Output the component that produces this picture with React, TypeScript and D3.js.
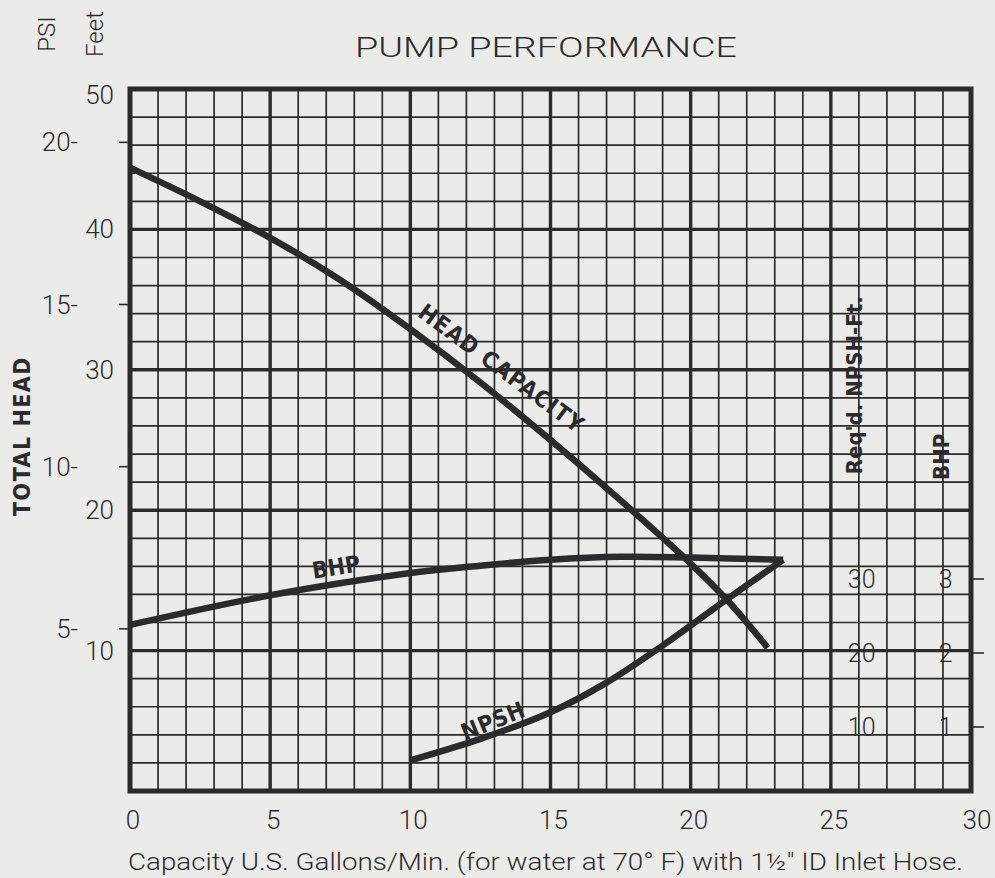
import React from "react";
import * as d3 from "d3";

// head-capacity curve (gpm -> feet of head)
const headGpm = [0, 2.5, 5, 7.5, 10, 12.5, 15, 17.5, 20, 21.3, 22.75];
const headFeet = [44.4, 42.0, 39.4, 36.4, 32.9, 29.1, 25.0, 20.7, 16.2, 13.6, 10.2];

// brake horsepower curve
const bhpGpm = [0, 5, 10, 12.5, 15, 17.5, 20, 23.3];
const bhpValues = [2.38, 2.78, 3.08, 3.18, 3.26, 3.30, 3.29, 3.26];

// required NPSH curve (feet)
const npshGpm = [10, 12.5, 15, 17, 19, 21.2, 23.3];
const npshFeet = [5.5, 8.4, 12.0, 16.0, 21.0, 27.0, 32.6];

// axis ticks
const gpmTicks = [0, 5, 10, 15, 20, 25, 30];
const feetTicks = [10, 20, 30, 40, 50];
const psiTicks = [5, 10, 15, 20];
const npshTicks = [10, 20, 30];
const bhpTicks = [1, 2, 3];

const W = 995;
const H = 878;
const ink = "#2b2b2b";
const paper = "#ebebea";
const lightFont = "Roboto, 'Liberation Sans', sans-serif";
const boldFont = "'Liberation Sans Narrow', 'DejaVu Sans Condensed', 'Liberation Sans', sans-serif";

export default function App() {
  const x = d3.scaleLinear().domain([0, 30]).range([130, 971]);
  const yFeet = d3.scaleLinear().domain([0, 50]).range([791, 89]);
  const yPsi = (p: number) => yFeet(p * 2.31);
  // right-hand scales printed on the grid
  const yNpsh = d3.scaleLinear().domain([10, 30]).range([727, 579]);
  const yBhp = d3.scaleLinear().domain([1, 3]).range([727, 579]);

  const line = d3.line<[number, number]>().curve(d3.curveCatmullRom.alpha(0.5));

  const headPath = line(headGpm.map((g, i) => [x(g), yFeet(headFeet[i])]));
  const bhpPath = line(bhpGpm.map((g, i) => [x(g), yBhp(bhpValues[i])]));
  const npshPath = line(npshGpm.map((g, i) => [x(g), yNpsh(npshFeet[i])]));

  const vLines = d3.range(0, 31);
  const hLines = d3.range(0, 51, 2);

  const [x0, x1] = x.range();
  const [yb, yt] = yFeet.range();

  return (
    <svg width={W} height={H} style={{ position: "absolute", left: 0, top: 0, background: paper }}>
      <rect width={W} height={H} fill={paper} />

      {/* grid */}
      <g stroke={ink}>
        {vLines.map((v) => (
          <line key={"v" + v} x1={x(v)} x2={x(v)} y1={yt} y2={yb}
            strokeWidth={v % 5 === 0 ? 3.4 : 1.7} />
        ))}
        {hLines.map((h) => (
          <line key={"h" + h} y1={yFeet(h)} y2={yFeet(h)} x1={x0} x2={x1}
            strokeWidth={h % 10 === 0 ? 3.4 : 1.7} />
        ))}
        <rect x={x0} y={yt} width={x1 - x0} height={yb - yt} fill="none" strokeWidth={5} />
        {/* psi ticks */}
        {psiTicks.map((p) => (
          <line key={"pt" + p} x1={x0 - 11} x2={x0} y1={yPsi(p)} y2={yPsi(p)} strokeWidth={1.6} />
        ))}
        {/* right ticks */}
        {npshTicks.map((n) => (
          <line key={"rt" + n} x1={x1} x2={x1 + 13} y1={yNpsh(n)} y2={yNpsh(n)} strokeWidth={1.6} />
        ))}
      </g>

      {/* curves */}
      <g fill="none" stroke={ink} strokeWidth={6.5} strokeLinejoin="round">
        <path d={headPath || ""} />
        <path d={bhpPath || ""} />
        <path d={npshPath || ""} />
      </g>

      {/* curve labels */}
      <g fill={ink} fontFamily={boldFont} fontWeight="bold" fontSize={23} textAnchor="middle" dominantBaseline="central">
        <text transform={`translate(${x(13.25)},${yFeet(30.1)}) rotate(36.5)`} letterSpacing={1.2}>HEAD CAPACITY</text>
        <text transform={`translate(${x(7.35)},${yFeet(15.95)}) rotate(-9)`}>BHP</text>
        <text transform={`translate(${x(12.95)},${yFeet(5.0)}) rotate(-22)`} letterSpacing={0.5}>NPSH</text>
        <text transform={`translate(${x(25.85)},${yFeet(28.9)}) rotate(-90)`} fontSize={22}>Req'd. NPSH-Ft.</text>
        <text transform={`translate(${x(28.95)},${yFeet(23.8)}) rotate(-90)`} fontSize={22}>BHP</text>
      </g>

      {/* title */}
      <text x={355} y={57} fontFamily={lightFont} fontWeight={300}
        fontSize={27} textLength={382} lengthAdjust="spacingAndGlyphs" fill={ink}>PUMP  PERFORMANCE</text>

      {/* PSI / Feet headers */}
      <g fill={ink} fontFamily={lightFont} fontWeight={300} fontSize={24} textAnchor="middle" dominantBaseline="central">
        <text transform="translate(47,34) rotate(-90)">PSI</text>
        <text transform="translate(95,34) rotate(-90)">Feet</text>
      </g>

      {/* total head label */}
      <text transform="translate(22,436) rotate(-90)" textAnchor="middle" dominantBaseline="central"
        fontFamily={boldFont} fontWeight="bold" fontSize={23} letterSpacing={1.5} fill={ink}>TOTAL HEAD</text>

      {/* feet tick labels */}
      <g fill={ink} fontFamily={lightFont} fontWeight={300} fontSize={26} textAnchor="end" dominantBaseline="central">
        {feetTicks.map((f) => (
          <text key={"f" + f} x={114} y={yFeet(f) + (f === 50 ? 6 : 0)}>{f}</text>
        ))}
        {psiTicks.map((p) => (
          <text key={"p" + p} x={78} y={yPsi(p)}>{p}-</text>
        ))}
      </g>

      {/* right-side printed values */}
      <g fill={ink} fontFamily={lightFont} fontWeight={300} fontSize={25} textAnchor="middle" dominantBaseline="central">
        {npshTicks.map((n) => (
          <text key={"n" + n} x={x(26.1)} y={yNpsh(n)}>{n}</text>
        ))}
        {bhpTicks.map((b) => (
          <text key={"b" + b} x={x(29.1)} y={yBhp(b)}>{b}</text>
        ))}
      </g>

      {/* x tick labels */}
      <g fill={ink} fontFamily={lightFont} fontWeight={300} fontSize={26} textAnchor="middle">
        {gpmTicks.map((g) => (
          <text key={"g" + g} x={x(g) + (g === 30 ? 6 : 3)} y={829}>{g}</text>
        ))}
      </g>

      <text x={128} y={870} fontFamily={lightFont} fontWeight={300} fontSize={24} fill={ink}
        textLength={835} lengthAdjust="spacingAndGlyphs">
        Capacity U.S. Gallons/Min. (for water at 70° F) with 1½″ ID Inlet Hose.
      </text>
    </svg>
  );
}
